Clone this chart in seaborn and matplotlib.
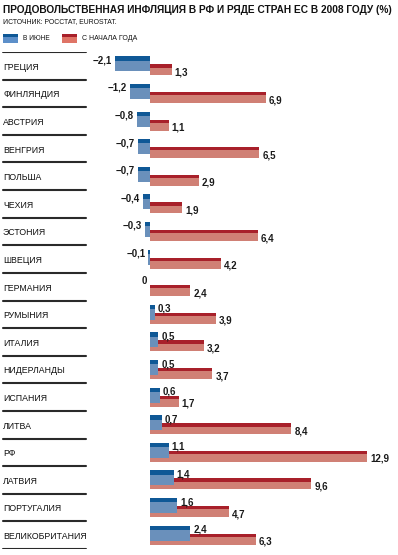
import pandas as pd
import matplotlib
matplotlib.use("Agg")
import matplotlib.pyplot as plt
import seaborn as sns
from matplotlib.patches import Rectangle
from matplotlib import font_manager

# data
countries = ["ГРЕЦИЯ", "ФИНЛЯНДИЯ", "АВСТРИЯ", "ВЕНГРИЯ", "ПОЛЬША", "ЧЕХИЯ",
             "ЭСТОНИЯ", "ШВЕЦИЯ", "ГЕРМАНИЯ", "РУМЫНИЯ", "ИТАЛИЯ", "НИДЕРЛАНДЫ",
             "ИСПАНИЯ", "ЛИТВА", "РФ", "ЛАТВИЯ", "ПОРТУГАЛИЯ", "ВЕЛИКОБРИТАНИЯ"]
june = [-2.1, -1.2, -0.8, -0.7, -0.7, -0.4, -0.3, -0.1, 0.0,
        0.3, 0.5, 0.5, 0.6, 0.7, 1.1, 1.4, 1.6, 2.4]
since_jan = [1.3, 6.9, 1.1, 6.5, 2.9, 1.9, 6.4, 4.2, 2.4,
             3.9, 3.2, 3.7, 1.7, 8.4, 12.9, 9.6, 4.7, 6.3]
series = ["В ИЮНЕ", "С НАЧАЛА ГОДА"]

title = "ПРОДОВОЛЬСТВЕННАЯ ИНФЛЯЦИЯ В РФ И РЯДЕ СТРАН ЕС В 2008 ГОДУ (%)"
source = "ИСТОЧНИК: РОССТАТ, EUROSTAT."

df = pd.DataFrame({
    "country": countries * 2,
    "series": [series[0]] * len(countries) + [series[1]] * len(countries),
    "value": june + since_jan,
})

sns.set_theme(style="white")
# prefer a narrow face if one is installed
names = {f.name for f in font_manager.fontManager.ttflist}
main_font = "Liberation Sans Narrow" if "Liberation Sans Narrow" in names else "Liberation Sans"
plt.rcParams["font.family"] = [main_font, "DejaVu Sans"]

light = {series[0]: "#5c8fc9", series[1]: "#df7466"}
dark = {series[0]: "#0f5896", series[1]: "#a8202a"}

W, H = 398, 555
fig = plt.figure(figsize=(W / 100, H / 100), dpi=100)
# axes spans the full width; rows from y=52px to y=549px
ax = fig.add_axes([0, 6 / H, 1, 497 / H])

sns.barplot(data=df, x="value", y="country", hue="series", orient="h",
            palette=light, dodge=True, width=0.8, legend=False,
            linewidth=0, ax=ax)

# place bars: blue higher & on top, red lower & behind
# (top, bottom, dark stripe height) in row units
geom = {series[0]: (-0.345, 0.2, 0.155), series[1]: (-0.055, 0.345, 0.12)}
n = len(countries)
bars = ax.patches[:2 * n]
for k, p in enumerate(bars):
    s = series[k // n]
    i = k % n
    top, bot, stripe = geom[s]
    p.set_y(i + top)
    p.set_height(bot - top)
    p.set_linewidth(0)
    p.set_zorder(3 if s == series[0] else 2)
    x0, w = p.get_x(), p.get_width()
    ax.add_patch(Rectangle((x0, i + top), w, stripe, color=dark[s],
                           lw=0, zorder=p.get_zorder() + 0.1))

# scale: 0 at 150px, 12.9 at 367px
ppu = (367 - 150) / 12.9
ax.set_xlim(-150 / ppu, (W - 150) / ppu)
ax.set_ylim(n - 0.5, -0.5)
ax.axis("off")

renderer = fig.canvas.get_renderer()


def fit(t, width_px):
    # shrink / grow a text so it spans width_px
    w = t.get_window_extent(renderer).width
    t.set_fontsize(t.get_fontsize() * width_px / w)


gap = 3 / ppu
num = dict(fontsize=7, fontweight="bold", color="#1a1a1a",
           va="center", zorder=5)
labels = []
for i in range(n):
    v = june[i]
    txt = ("−" if v < 0 else "") + f"{abs(v):.1f}".replace(".", ",")
    if v == 0:
        txt = "0"
    if v <= 0:
        ax.text(v - gap, i - 0.2, txt, ha="right", **num)
    else:
        ax.text(v + gap, i - 0.2, txt, ha="left", **num)
    r = since_jan[i]
    ax.text(r + gap, i + 0.24, f"{r:.1f}".replace(".", ","), ha="left", **num)

    # country label
    labels.append(ax.text(3 / W, i + 0.05, countries[i],
                          transform=ax.get_yaxis_transform(), fontsize=7,
                          color="#111111", ha="left", va="center"))

# country labels: longest one should stay inside the separator lines
longest = max(labels, key=lambda t: t.get_window_extent(renderer).width)
fit(longest, 83)
for t in labels:
    t.set_fontsize(longest.get_fontsize())

# separator lines
for i in range(n + 1):
    ax.axhline(i - 0.5, xmin=3 / W, xmax=86 / W, color="#2a2a2a", lw=1.5,
               zorder=1)

# title, source, legend
t1 = fig.text(3 / W, 1 - 10 / H, title, fontsize=8.2, fontweight="bold",
              color="#111111", ha="left", va="center")
fit(t1, 390)
t2 = fig.text(3 / W, 1 - 22 / H, source, fontsize=6.0, color="#111111",
              ha="left", va="center")
fit(t2, 114)
leg_w = [27, 55]
for x_patch, s, lw_ in zip([3, 62], series, leg_w):
    fig.add_artist(Rectangle((x_patch / W, 1 - 43 / H), 15 / W, 9 / H,
                             transform=fig.transFigure, color=light[s], lw=0))
    fig.add_artist(Rectangle((x_patch / W, 1 - 37 / H), 15 / W, 3 / H,
                             transform=fig.transFigure, color=dark[s], lw=0))
    lt = fig.text((x_patch + 20) / W, 1 - 39 / H, s, fontsize=6.0,
                  color="#111111", ha="left", va="center")
    fit(lt, lw_)

fig.savefig("out.png", dpi=100)
